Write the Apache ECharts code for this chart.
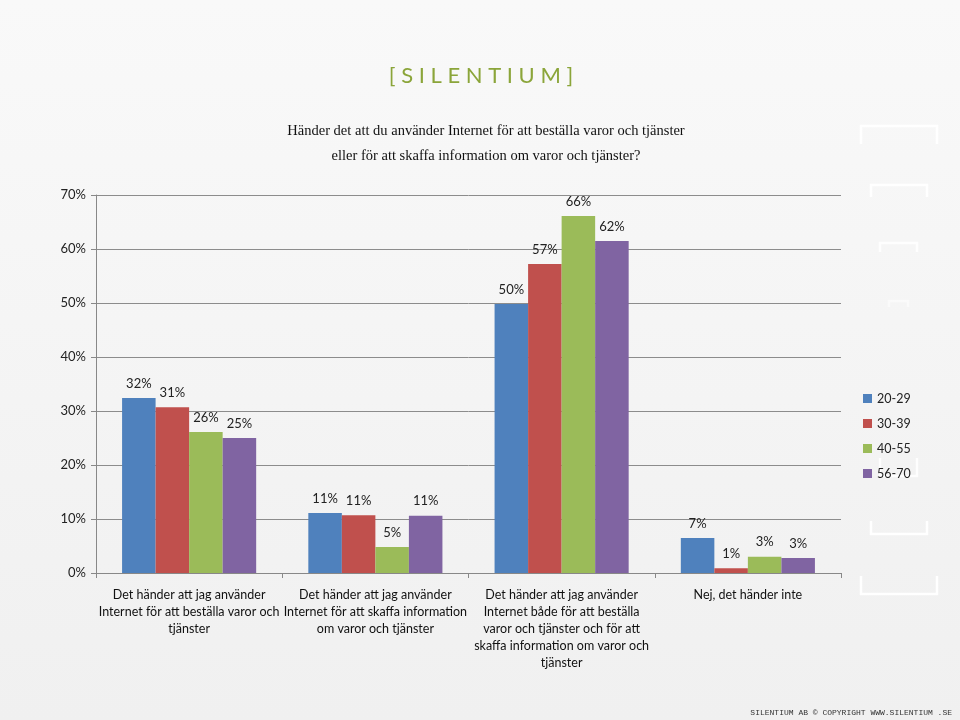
<!DOCTYPE html>
<html>
<head>
<meta charset="utf-8">
<script src="https://cdn.jsdelivr.net/npm/echarts@6/dist/echarts.min.js"></script>
<style>html,body{margin:0;padding:0;}#c{width:960px;height:720px;}</style>
</head>
<body>
<div id="c"></div>
<script>
const categories = [
  "Det händer att jag använder\nInternet för att beställa varor och\ntjänster",
  "Det händer att jag använder\nInternet för att skaffa information\nom varor och tjänster",
  "Det händer att jag använder\nInternet både för att beställa\nvaror och tjänster och för att\nskaffa information om varor och\ntjänster",
  "Nej, det händer inte"
];
const seriesNames = ["20-29", "30-39", "40-55", "56-70"];
const s2029 = [32.4, 11.1, 49.8, 6.5];
const s3039 = [30.7, 10.7, 57.2, 0.9];
const s4055 = [26.1, 4.8, 66.1, 3.0];
const s5670 = [25.0, 10.6, 61.5, 2.8];
const colors = ["#4f81bd", "#c0504d", "#9bbb59", "#8064a2"];
const yTicks = [0, 10, 20, 30, 40, 50, 60, 70];

const chart = echarts.init(document.getElementById('c'));
const allData = [s2029, s3039, s4055, s5670];
const labelFont = "Lato, 'Open Sans', sans-serif";

function bracket(x1, x2, yLine, yEnd, op) {
  return {
    type: 'polyline', silent: true,
    shape: { points: [[x1, yEnd], [x1, yLine], [x2, yLine], [x2, yEnd]] },
    style: { stroke: '#ffffff', lineWidth: 2.5, fill: null, opacity: op }
  };
}

chart.setOption({
  backgroundColor: {
    type: 'linear', x: 0, y: 0, x2: 0, y2: 1,
    colorStops: [{ offset: 0, color: '#f9f9f9' }, { offset: 1, color: '#f0f0f0' }]
  },
  animation: false,
  color: colors,
  title: [
    {
      text: "[ S I L E N T I U M ]",
      left: 476, top: 60, textAlign: 'center',
      textStyle: { color: '#8ba53a', fontSize: 22, fontWeight: 'normal', fontFamily: labelFont }
    },
    {
      text: "Händer det att du använder Internet för att beställa varor och tjänster\neller för att skaffa information om varor och tjänster?",
      left: 481, top: 114, textAlign: 'center',
      textStyle: { color: '#111', fontSize: 14.5, fontWeight: 'normal', fontFamily: "'Liberation Serif', serif", lineHeight: 25 }
    },
    {
      text: "SILENTIUM AB © COPYRIGHT WWW.SILENTIUM .SE",
      left: 947, top: 704, textAlign: 'right',
      textStyle: { color: '#333', fontSize: 8, fontWeight: 'normal', fontFamily: "'Liberation Mono', monospace" }
    }
  ],
  graphic: [
    bracket(861, 937, 126, 144, 1),
    bracket(871, 927, 185, 197, 1),
    bracket(880, 917, 243, 252, 0.9),
    bracket(889, 908, 301, 307, 0.5),
    bracket(880, 917, 476, 458, 0.9),
    bracket(871, 927, 534, 521, 1),
    bracket(861, 937, 594, 576, 1)
  ],
  legend: {
    orient: 'vertical',
    left: 858, top: 387,
    itemWidth: 9, itemHeight: 9, itemGap: 12,
    icon: 'rect',
    textStyle: { fontSize: 12.5, color: '#222', fontFamily: labelFont },
    data: seriesNames
  },
  grid: { left: 96, right: 119, top: 195, bottom: 147, containLabel: false },
  xAxis: {
    type: 'category',
    data: categories,
    axisLine: { lineStyle: { color: '#888' } },
    axisTick: { show: true, length: 5, lineStyle: { color: '#888' } },
    axisLabel: {
      interval: 0, color: '#111', fontSize: 12.5, lineHeight: 16.8, margin: 14,
      fontFamily: labelFont
    }
  },
  yAxis: {
    type: 'value', min: 0, max: 70, interval: 10,
    axisLine: { show: true, lineStyle: { color: '#888' } },
    axisTick: { show: true, length: 5, lineStyle: { color: '#888' } },
    splitLine: { show: true, lineStyle: { color: '#8c8c8c' } },
    axisLabel: {
      color: '#222', fontSize: 13, margin: 10, fontFamily: labelFont,
      formatter: v => yTicks.includes(v) ? v + '%' : ''
    }
  },
  series: seriesNames.map((n, i) => ({
    name: n, type: 'bar',
    data: allData[i],
    barGap: '0%', barCategoryGap: '28%',
    itemStyle: { color: colors[i] },
    label: {
      show: true, position: 'top', distance: 8,
      color: '#222', fontSize: 13, fontFamily: labelFont,
      formatter: p => Math.round(p.value) + '%'
    }
  }))
});
</script>
</body>
</html>
